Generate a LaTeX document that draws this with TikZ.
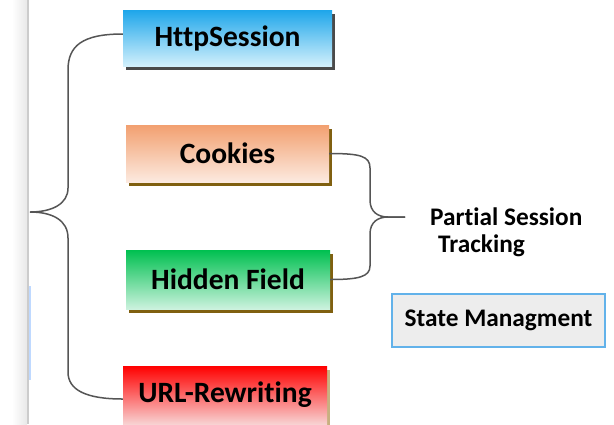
\documentclass[tikz,border=0pt]{standalone}
\usepackage{fontspec}
\setmainfont{Carlito}[Ligatures={NoCommon}]
\usetikzlibrary{shadows}
\definecolor{bluetop}{HTML}{1EA6EA}
\definecolor{bluebot}{HTML}{D2F0FC}
\definecolor{orgtop}{HTML}{F2A070}
\definecolor{orgbot}{HTML}{FCEAE0}
\definecolor{grntop}{HTML}{00C050}
\definecolor{grnbot}{HTML}{CCF2DE}
\definecolor{redtop}{HTML}{FF0000}
\definecolor{redbot}{HTML}{F8D2D2}
\definecolor{greyshadow}{HTML}{4A4A4A}
\definecolor{brownshadow}{HTML}{806010}
\definecolor{tanshadow}{HTML}{C8B080}
\definecolor{bracecol}{HTML}{555555}
\definecolor{stateline}{HTML}{62B2EA}
\definecolor{statefill}{HTML}{EDEDED}
\tikzset{
  techbox/.style={minimum width=204bp, minimum height=57bp, inner sep=0pt,
    font=\fontsize{29.5bp}{33bp}\selectfont\bfseries},
  shadowed/.style={drop shadow={shadow xshift=3bp, shadow yshift=-4bp,
    opacity=1, fill=#1}},
  bracepath/.style={draw=bracecol, line width=1.5bp},
  labeltext/.style={font=\fontsize{25.3bp}{29bp}\selectfont\bfseries, inner sep=0pt}
}
\begin{document}
\begin{tikzpicture}[x=1bp, y=-1bp]
\useasboundingbox (0,0) rectangle (614,424);
\fill[white] (0,0) rectangle (614,424);

% window edge on the left
\shade[left color=white, right color=black!9] (12,0) rectangle (27,424);
\draw[black!20, line width=1.5bp] (28,0) -- (28,424);
\draw[blue!60!cyan!25, line width=1.5bp] (30,286) -- (30,380);

% technique boxes
\node[techbox, minimum width=209bp, minimum height=56bp, top color=bluetop, bottom color=bluebot,
      shadowed=greyshadow] (http) at (227.5,38) {HttpSession};
\node[techbox, minimum width=203bp, top color=orgtop, bottom color=orgbot,
      shadowed=brownshadow] (cookies) at (227.5,153.5) {Cookies};
\node[techbox, minimum height=59bp, top color=grntop, bottom color=grnbot,
      shadowed=brownshadow] (hidden) at (228,279.5) {Hidden Field};
\node[techbox, minimum height=58bp, top color=redtop, bottom color=redbot,
      shadowed=tanshadow] (url) at (225,395) {URL-Rewriting};

% title box
\node[draw=stateline, fill=statefill, line width=1.2bp, minimum width=213bp, minimum height=53bp,
      labeltext] (state) at (498.5,320.5) {State Managment};

% label of the right brace
\node[labeltext, anchor=base west] (partial) at (430,225) {Partial Session};
\node[labeltext, anchor=base west] (tracking) at (438,252) {Tracking};

% left brace joining all four techniques
\coordinate (ltip) at (30,212);
\draw[bracepath] ([yshift=4bp]http.west) .. controls (82,34) and (68,46) .. (68,70)
  -- (68,188) .. controls (68,204) and (52,212) .. (ltip)
  .. controls (52,212) and (68,220) .. (68,238)
  -- (68,372) .. controls (68,390) and (86,399) .. ([yshift=-4bp]url.west);

% right brace joining cookies and hidden field
\coordinate (rtip) at (405,217);
\draw[bracepath] (cookies.east) .. controls (360,153.5) and (370,156) .. (370,168)
  -- (370,200) .. controls (370,212) and (378,217) .. (388,217) -- (rtip);
\draw[bracepath] (rtip) -- (388,217) .. controls (378,217) and (370,222) .. (370,234)
  -- (370,266) .. controls (370,277) and (358,279.5) .. (hidden.east);
\end{tikzpicture}
\end{document}
